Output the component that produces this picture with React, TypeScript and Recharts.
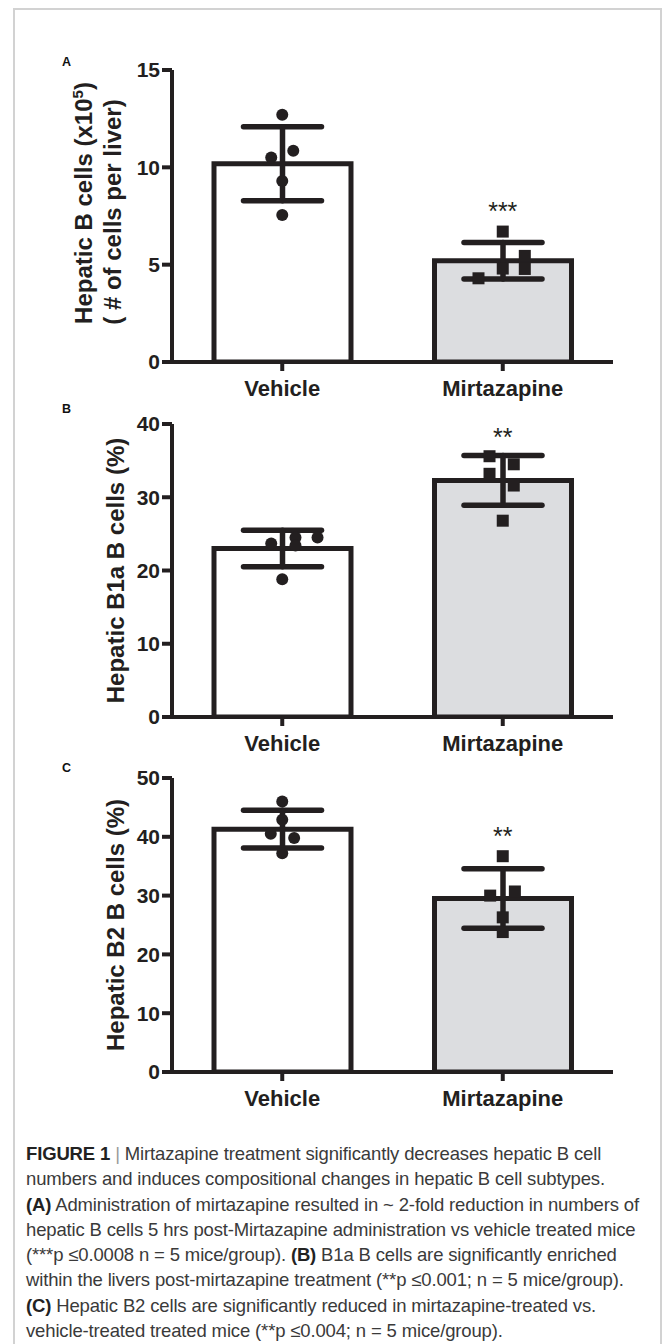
import React from "react";
import {
  Bar,
  Cell,
  ComposedChart,
  ErrorBar,
  ReferenceDot,
  Scatter,
  XAxis,
  YAxis,
} from "recharts";

const INK = "#231f20";
const GREY = "#dcdde0";
const FONT = '"Liberation Sans", Arial, Helvetica, sans-serif';

const groups = ["Vehicle", "Mirtazapine"];

// A: hepatic B cells (x10^5 per liver)
const aTicks = [0, 5, 10, 15];
const aMeans = [10.18, 5.2];
const aSd = [1.9, 0.94];
const aVehicle = [12.7, 10.85, 10.5, 9.3, 7.55];
const aVehicleJitter = [0, 0.05, -0.05, 0, 0];
const aMirt = [6.7, 5.45, 4.8, 4.78, 4.3];
const aMirtJitter = [0, 0.1, 0, 0.1, -0.11];

// B: B1a share (%)
const bTicks = [0, 10, 20, 30, 40];
const bMeans = [23.0, 32.3];
const bSd = [2.5, 3.4];
const bVehicle = [23.7, 24.5, 24.5, 23.4, 18.8];
const bVehicleJitter = [-0.05, 0.16, 0.06, 0.06, 0];
const bMirt = [35.6, 34.5, 33.2, 31.6, 26.8];
const bMirtJitter = [-0.06, 0.05, -0.06, 0.05, 0];

// C: B2 share (%)
const cTicks = [0, 10, 20, 30, 40, 50];
const cMeans = [41.3, 29.5];
const cSd = [3.2, 5.05];
const cVehicle = [46.0, 42.9, 40.5, 39.8, 37.2];
const cVehicleJitter = [0, 0, -0.052, 0.054, 0];
const cMirt = [36.7, 30.7, 30.0, 26.3, 23.8];
const cMirtJitter = [0, 0.055, -0.057, 0, 0];

const stars = ["***", "**", "**"];
const starLevels = [7.73, 38.2, 40.05];

const captionLines: React.ReactNode[] = [
  <>
    <b style={{ color: "#222" }}>FIGURE 1</b> <span style={{ color: "#999" }}>|</span> Mirtazapine treatment significantly decreases hepatic B cell
  </>,
  <>numbers and induces compositional changes in hepatic B cell subtypes.</>,
  <>
    <b style={{ color: "#222" }}>(A)</b> Administration of mirtazapine resulted in ~ 2-fold reduction in numbers of
  </>,
  <>hepatic B cells 5 hrs post-Mirtazapine administration vs vehicle treated mice</>,
  <>
    (***p ≤0.0008 n = 5 mice/group). <b style={{ color: "#222" }}>(B)</b> B1a B cells are significantly enriched
  </>,
  <>within the livers post-mirtazapine treatment (**p ≤0.001; n = 5 mice/group).</>,
  <>
    <b style={{ color: "#222" }}>(C)</b> Hepatic B2 cells are significantly reduced in mirtazapine-treated vs.
  </>,
  <>vehicle-treated treated mice (**p ≤0.004; n = 5 mice/group).</>,
];

const dot = (p: any) => <circle cx={p.cx} cy={p.cy} r={6} fill={INK} />;
const square = (p: any) => <rect x={p.cx - 6} y={p.cy - 6} width={12} height={12} fill={INK} />;

type LabelLine = { text: React.ReactNode; x: number; shift: number };

function yTitle(lines: LabelLine[]) {
  return (props: any) => {
    const vb = props.viewBox;
    const cy = vb.y + vb.height / 2;
    return (
      <g>
        {lines.map((ln, i) => (
          <text
            key={i}
            x={ln.x}
            y={cy + ln.shift}
            transform={`rotate(-90 ${ln.x} ${cy + ln.shift})`}
            textAnchor="middle"
            fill={INK}
            fontSize={24}
            fontWeight={700}
            fontFamily={FONT}
          >
            {ln.text}
          </text>
        ))}
      </g>
    );
  };
}

type PanelProps = {
  top: number;
  height: number;
  plotTop: number;
  plotBottom: number;
  ticks: number[];
  means: number[];
  sds: number[];
  vehicle: number[];
  vehicleJitter: number[];
  mirt: number[];
  mirtJitter: number[];
  star: string;
  starLevel: number;
  title: LabelLine[];
  letter: string;
  letterTop: number;
};

function Panel(p: PanelProps) {
  const bars = groups.map((g, i) => ({ group: g, mean: p.means[i], sd: p.sds[i] }));
  const vehPts = p.vehicle.map((v, i) => ({ x: 0 + p.vehicleJitter[i], y: v }));
  const mirPts = p.mirt.map((v, i) => ({ x: 1 + p.mirtJitter[i], y: v }));
  const xAxisHeight = 40;
  const yMax = p.ticks[p.ticks.length - 1];

  return (
    <>
      <div
        style={{
          position: "absolute",
          left: 62,
          top: p.letterTop,
          fontFamily: FONT,
          fontWeight: 700,
          fontSize: 12.5,
          lineHeight: 1,
          color: "#111",
        }}
      >
        {p.letter}
      </div>
      <div style={{ position: "absolute", left: 0, top: p.top }}>
        <ComposedChart
          width={663}
          height={p.height}
          data={bars}
          margin={{
            top: p.plotTop - p.top,
            right: 50,
            left: 112,
            bottom: p.top + p.height - p.plotBottom - xAxisHeight,
          }}
        >
          <XAxis
            xAxisId="cat"
            dataKey="group"
            type="category"
            height={xAxisHeight}
            interval={0}
            tickSize={9}
            tickMargin={9}
            axisLine={{ stroke: INK, strokeWidth: 4 }}
            tickLine={{ stroke: INK, strokeWidth: 4 }}
            tick={{ fill: INK, fontSize: 22, fontWeight: 700, fontFamily: FONT }}
          />
          <XAxis xAxisId="num" dataKey="x" type="number" domain={[-0.5, 1.5]} allowDataOverflow hide />
          <YAxis
            type="number"
            domain={[0, yMax]}
            ticks={p.ticks}
            allowDataOverflow
            width={60}
            tickSize={10}
            tickMargin={2}
            axisLine={{ stroke: INK, strokeWidth: 4 }}
            tickLine={{ stroke: INK, strokeWidth: 4 }}
            tick={{ fill: INK, fontSize: 21, fontWeight: 700, fontFamily: FONT }}
            label={{ content: yTitle(p.title) }}
          />
          <Bar xAxisId="cat" dataKey="mean" barSize={137} stroke={INK} strokeWidth={5} isAnimationActive={false}>
            {bars.map((b, i) => (
              <Cell key={b.group} fill={i === 0 ? "#ffffff" : GREY} />
            ))}
            <ErrorBar dataKey="sd" direction="y" width={39} stroke={INK} strokeWidth={5.5} strokeLinecap="round" />
          </Bar>
          <Scatter xAxisId="num" data={vehPts} dataKey="y" shape={dot} isAnimationActive={false} />
          <Scatter xAxisId="num" data={mirPts} dataKey="y" shape={square} isAnimationActive={false} />
          <ReferenceDot
            xAxisId="cat"
            x="Mirtazapine"
            y={p.starLevel}
            r={0}
            fill="none"
            stroke="none"
            label={{ value: p.star, position: "center", fill: INK, fontSize: 25, fontFamily: FONT }}
          />
        </ComposedChart>
      </div>
    </>
  );
}

export default function App() {
  return (
    <div
      style={{
        position: "relative",
        width: 663,
        height: 1344,
        overflow: "hidden",
        background: "#fff",
        fontFamily: FONT,
      }}
    >
      <style>{`body{margin:0}`}</style>
      <div
        style={{
          position: "absolute",
          left: 13,
          top: 8,
          width: 645,
          height: 1400,
          border: "2px solid #d2d2d2",
        }}
      />
      <Panel
        top={40}
        height={370}
        plotTop={70}
        plotBottom={362}
        ticks={aTicks}
        means={aMeans}
        sds={aSd}
        vehicle={aVehicle}
        vehicleJitter={aVehicleJitter}
        mirt={aMirt}
        mirtJitter={aMirtJitter}
        star={stars[0]}
        starLevel={starLevels[0]}
        title={[
          {
            text: (
              <>
                Hepatic B cells (x10
                <tspan dy={-9} fontSize={15}>
                  5
                </tspan>
                <tspan dy={9}>)</tspan>
              </>
            ),
            x: 92,
            shift: -13,
          },
          { text: "( # of cells per liver)", x: 121, shift: -4 },
        ]}
        letter="A"
        letterTop={56}
      />
      <Panel
        top={400}
        height={360}
        plotTop={424}
        plotBottom={717}
        ticks={bTicks}
        means={bMeans}
        sds={bSd}
        vehicle={bVehicle}
        vehicleJitter={bVehicleJitter}
        mirt={bMirt}
        mirtJitter={bMirtJitter}
        star={stars[1]}
        starLevel={starLevels[1]}
        title={[{ text: "Hepatic B1a B cells (%)", x: 124, shift: 0 }]}
        letter="B"
        letterTop={403}
      />
      <Panel
        top={755}
        height={360}
        plotTop={778}
        plotBottom={1072}
        ticks={cTicks}
        means={cMeans}
        sds={cSd}
        vehicle={cVehicle}
        vehicleJitter={cVehicleJitter}
        mirt={cMirt}
        mirtJitter={cMirtJitter}
        star={stars[2]}
        starLevel={starLevels[2]}
        title={[{ text: "Hepatic B2 B cells (%)", x: 124, shift: 0 }]}
        letter="C"
        letterTop={762}
      />
      <div
        style={{
          position: "absolute",
          left: 26,
          top: 1141,
          fontSize: 18.5,
          lineHeight: "25.3px",
          color: "#3a3a3a",
          letterSpacing: -0.15,
          whiteSpace: "nowrap",
        }}
      >
        {captionLines.map((ln, i) => (
          <div key={i}>{ln}</div>
        ))}
      </div>
    </div>
  );
}
